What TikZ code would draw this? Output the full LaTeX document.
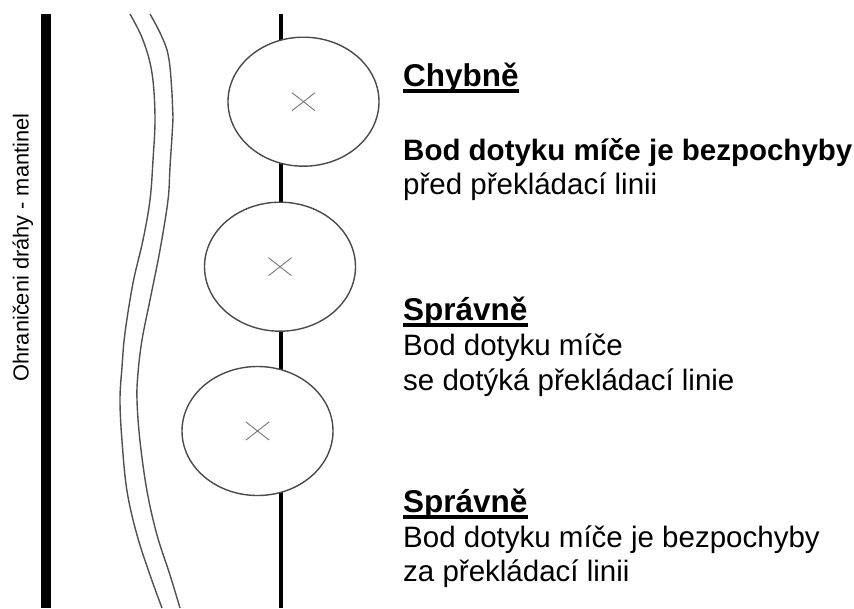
\documentclass[tikz,border=0pt]{standalone}
\usepackage{fontspec}
\setmainfont{Liberation Sans}
\usetikzlibrary{shapes.geometric}
\definecolor{ballgray}{HTML}{4A4A4A}
\definecolor{crossgray}{HTML}{777777}
\definecolor{wavegray}{HTML}{505050}
\begin{document}
\begin{tikzpicture}[x=1pt,y=-1pt,
  ball/.style={ellipse, draw=ballgray, line width=1.4pt, fill=white, minimum width=151pt, minimum height=129pt, inner sep=0pt},
  crossline/.style={draw=crossgray, line width=0.9pt},
  wave/.style={draw=wavegray, line width=1.4pt},
  txt/.style={anchor=base west, inner sep=0pt, font=\fontsize{29.5}{34}\selectfont},
  head/.style={anchor=base west, inner sep=0pt, font=\fontsize{29.5}{34}\selectfont\bfseries},
  title/.style={anchor=base west, inner sep=0pt, font=\fontsize{31.5}{36}\selectfont\bfseries},
  uline/.style={line width=3.5pt},
  ctr/.style={line width=4.5pt},
  bar/.style={line width=10pt}]
\useasboundingbox (0,0) rectangle (854,608);

% boundary bar and label
\coordinate (bartop) at (45.5,14);
\coordinate (barbot) at (45.5,608);
\draw[bar] (bartop) -- (barbot);
\node[rotate=90, anchor=base, inner sep=0pt, font=\fontsize{21.8}{26}\selectfont] (lbl) at (28.5,247.5) {Ohraničeni dráhy - mantinel};

% wavy double line
\draw[wave] plot[smooth, tension=0.6] coordinates {(130,14) (143,40) (152,73) (155,117) (153,160) (150,200) (143,240) (133,283) (125,333) (122,367) (120,400) (122,441) (127,491) (137,535) (150,575) (162,608)};
\draw[wave] plot[smooth, tension=0.6] coordinates {(150,14) (167,50) (172,93) (173,117) (170,167) (168,200) (160,250) (150,300) (142,340) (138,373) (137,400) (140,441) (147,491) (157,535) (170,575) (180,608)};

% line
\coordinate (ltop) at (281,14);
\coordinate (lbot) at (281,608);
\draw[ctr] (ltop) -- (lbot);

% balls
\node[ball] (b1) at (303.5,101.7) {};
\node[ball] (b2) at (280,266.7) {};
\node[ball] (b3) at (257.5,431) {};
\foreach \b in {b1,b2,b3}{
  \draw[crossline] ([shift={(-11.5,-9)}]\b.center) -- ([shift={(11.5,9)}]\b.center);
  \draw[crossline] ([shift={(-11.5,9)}]\b.center) -- ([shift={(11.5,-9)}]\b.center);
}

% texts
\node[title] (h1) at (403,86) {Chybně};
\draw[uline] ([yshift=-5pt]h1.base west) -- ([yshift=-5pt]h1.base east);
\node[head] (t1a) at (403,160) {Bod dotyku míče je bezpochyby};
\node[txt] (t1b) at (403,194) {před překládací linii};

\node[title] (h2) at (403,320) {Správně};
\draw[uline] ([yshift=-5pt]h2.base west) -- ([yshift=-5pt]h2.base east);
\node[txt] (t2a) at (403,355) {Bod dotyku míče};
\node[txt] (t2b) at (403,390) {se dotýká překládací linie};

\node[title] (h3) at (403,512) {Správně};
\draw[uline] ([yshift=-5pt]h3.base west) -- ([yshift=-5pt]h3.base east);
\node[txt] (t3a) at (403,547) {Bod dotyku míče je bezpochyby};
\node[txt] (t3b) at (403,581) {za překládací linii};
\end{tikzpicture}
\end{document}
